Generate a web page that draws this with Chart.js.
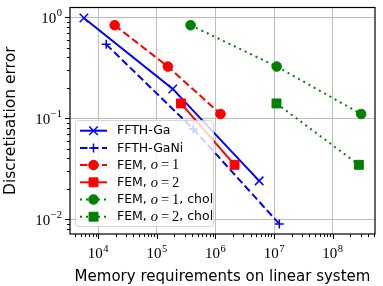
<!DOCTYPE html>
<html lang="en">
<head>
<meta charset="UTF-8">
<title>Discretisation error vs memory</title>
<script src="https://cdn.jsdelivr.net/npm/chart.js"></script>
<style>
  html, body { margin: 0; padding: 0; background: #fff; }
  #wrap { width: 383px; height: 286px; }
</style>
</head>
<body>
<div id="wrap"><canvas id="chart"></canvas></div>
<script>
// memory requirements (x) and discretisation error (y), one pair per method
const memGa = [5.7e3, 1.87e5, 5.57e6];
const errGa = [0.985, 0.195, 0.0239];
const memGaNi = [1.37e4, 4.18e5, 1.23e7];
const errGaNi = [0.539, 0.0783, 0.00895];
const memFem1 = [1.91e4, 1.54e5, 1.22e6];
const errFem1 = [0.834, 0.325, 0.110];
const memFem2 = [2.58e5, 2.12e6];
const errFem2 = [0.14, 0.0345];
const memFem1Chol = [3.77e5, 1.11e7, 3.06e8];
const errFem1Chol = [0.834, 0.325, 0.110];
const memFem2Chol = [1.1e7, 2.8e8];
const errFem2Chol = [0.14, 0.0345];

const seriesLabels = ['FFTH-Ga', 'FFTH-GaNi', 'FEM, $o=1$', 'FEM, $o=2$', 'FEM, $o=1$, chol', 'FEM, $o=2$, chol'];
const xTickExps = [4, 5, 6, 7, 8];
const yTickExps = [0, -1, -2];
const xTitle = 'Memory requirements on linear system';
const yTitle = 'Discretisation error';

const SANS = '"DejaVu Sans", sans-serif';
const SERIF = '"Liberation Serif", serif';

function pts(xs, ys) { return xs.map((x, i) => ({ x: x, y: ys[i] })); }

function ds(i, xs, ys, color, dash, style, radius, bw) {
    return {
        label: seriesLabels[i],
        data: pts(xs, ys),
        showLine: true,
        borderColor: color,
        backgroundColor: color,
        borderWidth: 2,
        borderDash: dash,
        pointStyle: style,
        pointRadius: radius,
        pointHoverRadius: radius,
        pointBorderWidth: bw,
        order: 6 - i
    };
}

const datasets = [
    ds(0, memGa, errGa, '#0000ff', [], 'crossRot', 6, 1.5),
    ds(1, memGaNi, errGaNi, '#0000ff', [7.5, 3.5], 'cross', 4.5, 1.5),
    ds(2, memFem1, errFem1, '#ff0000', [7.5, 3.5], 'circle', 4.8, 1),
    ds(3, memFem2, errFem2, '#ff0000', [], 'rect', 6.3, 1),
    ds(4, memFem1Chol, errFem1Chol, '#008000', [2, 4], 'circle', 4.8, 1),
    ds(5, memFem2Chol, errFem2Chol, '#008000', [2, 4], 'rect', 6.3, 1)
];

// 10^n with a raised exponent
function drawPow(ctx, exp, x, y, align) {
    const base = '10';
    const sup = exp < 0 ? '\u2212' + (-exp) : String(exp);
    ctx.font = '15px ' + SERIF;
    const wb = ctx.measureText(base).width;
    ctx.font = '10.5px ' + SERIF;
    const ws = ctx.measureText(sup).width;
    const total = wb + ws + 0.5;
    const x0 = align === 'center' ? x - total / 2 : x - total;
    ctx.textAlign = 'left';
    ctx.textBaseline = 'alphabetic';
    ctx.font = '15px ' + SERIF;
    ctx.fillText(base, x0, y);
    ctx.font = '10.5px ' + SERIF;
    ctx.fillText(sup, x0 + wb + 0.5, y - 6.5);
}

// legend text: plain parts in sans, $...$ parts like math
function drawRich(ctx, text, x, y) {
    const parts = text.split('$');
    parts.forEach((p, k) => {
        if (k % 2 === 0) {
            ctx.font = '12.5px ' + SANS;
            ctx.fillText(p, x, y);
            x += ctx.measureText(p).width;
        } else {
            for (const ch of p) {
                let s = ch;
                if (/[a-z]/.test(ch)) ctx.font = 'italic 14.5px ' + SERIF;
                else ctx.font = '14.5px ' + SERIF;
                if (ch === '=') s = '\u2009=\u2009';
                ctx.fillText(s, x, y);
                x += ctx.measureText(s).width;
            }
        }
    });
}

const decor = {
    id: 'decor',
    afterDraw(chart) {
        const ctx = chart.ctx;
        const a = chart.chartArea;
        const xs = chart.scales.x, ys = chart.scales.y;
        ctx.save();
        ctx.strokeStyle = '#000';
        ctx.fillStyle = '#000';
        ctx.lineWidth = 1;

        // tick marks, major and minor
        ctx.beginPath();
        for (let e = Math.floor(Math.log10(xs.min)); e <= Math.ceil(Math.log10(xs.max)); e++) {
            for (let m = 1; m <= 9; m++) {
                const v = m * Math.pow(10, e);
                if (v < xs.min || v > xs.max) continue;
                const px = Math.round(xs.getPixelForValue(v)) + 0.5;
                ctx.moveTo(px, a.bottom);
                ctx.lineTo(px, a.bottom + (m === 1 ? 5 : 3));
            }
        }
        for (let e = Math.floor(Math.log10(ys.min)); e <= Math.ceil(Math.log10(ys.max)); e++) {
            for (let m = 1; m <= 9; m++) {
                const v = m * Math.pow(10, e);
                if (v < ys.min || v > ys.max) continue;
                const py = Math.round(ys.getPixelForValue(v)) + 0.5;
                ctx.moveTo(a.left, py);
                ctx.lineTo(a.left - (m === 1 ? 5 : 3), py);
            }
        }
        ctx.stroke();

        // frame
        ctx.lineWidth = 1.2;
        ctx.strokeRect(a.left, a.top, a.right - a.left, a.bottom - a.top);

        // tick labels
        xTickExps.forEach(e => drawPow(ctx, e, xs.getPixelForValue(Math.pow(10, e)), a.bottom + 24, 'center'));
        yTickExps.forEach(e => drawPow(ctx, e, a.left - 8, ys.getPixelForValue(Math.pow(10, e)) + 5.5, 'right'));

        // axis titles
        ctx.font = '15px ' + SANS;
        ctx.textAlign = 'center';
        ctx.textBaseline = 'alphabetic';
        ctx.fillText(xTitle, (a.left + a.right) / 2, 281);
        ctx.save();
        ctx.translate(14.5, (a.top + a.bottom) / 2);
        ctx.rotate(-Math.PI / 2);
        ctx.font = '15.5px ' + SANS;
        ctx.fillText(yTitle, 0, 0);
        ctx.restore();

        // legend
        const lx = 75, ly = 120, lw = 138, lh = 106;
        ctx.beginPath();
        ctx.roundRect(lx + 0.5, ly + 0.5, lw, lh, 3);
        ctx.fillStyle = 'rgba(255,255,255,0.8)';
        ctx.fill();
        ctx.strokeStyle = 'rgba(204,204,204,0.8)';
        ctx.lineWidth = 1;
        ctx.stroke();
        chart.data.datasets.forEach((d, i) => {
            const y = 130.7 + i * 17.2;
            ctx.save();
            ctx.strokeStyle = d.borderColor;
            ctx.fillStyle = d.backgroundColor;
            ctx.lineWidth = d.borderWidth;
            ctx.setLineDash(d.borderDash);
            ctx.beginPath();
            ctx.moveTo(80, y);
            ctx.lineTo(107, y);
            ctx.stroke();
            ctx.setLineDash([]);
            ctx.lineWidth = d.pointBorderWidth;
            Chart.helpers.drawPoint(ctx, { pointStyle: d.pointStyle, radius: d.pointRadius, rotation: 0, borderWidth: d.pointBorderWidth }, 93.5, y);
            ctx.restore();
            ctx.fillStyle = '#000';
            ctx.textAlign = 'left';
            ctx.textBaseline = 'middle';
            drawRich(ctx, d.label, 117, y + 0.5);
        });
        ctx.restore();
    }
};

new Chart(document.getElementById('chart'), {
    type: 'scatter',
    data: { datasets: datasets },
    options: {
        responsive: true,
        maintainAspectRatio: false,
        animation: false,
        layout: { padding: { left: 0, right: 8, top: 6, bottom: 0 } },
        plugins: { legend: { display: false }, tooltip: { enabled: false } },
        scales: {
            x: {
                type: 'logarithmic',
                min: Math.pow(10, 3.519),
                max: Math.pow(10, 8.722),
                afterBuildTicks: s => { s.ticks = xTickExps.map(e => ({ value: Math.pow(10, e) })); },
                afterFit: s => { s.height = 52; },
                ticks: { display: false },
                grid: { color: '#bfbfbf', lineWidth: 1, drawTicks: false },
                border: { display: false }
            },
            y: {
                type: 'logarithmic',
                min: Math.pow(10, -2.148),
                max: Math.pow(10, 0.097),
                afterBuildTicks: s => { s.ticks = yTickExps.map(e => ({ value: Math.pow(10, e) })); },
                afterFit: s => { s.width = 70; },
                ticks: { display: false },
                grid: { color: '#bfbfbf', lineWidth: 1, drawTicks: false },
                border: { display: false }
            }
        }
    },
    plugins: [decor]
});
</script>
</body>
</html>
